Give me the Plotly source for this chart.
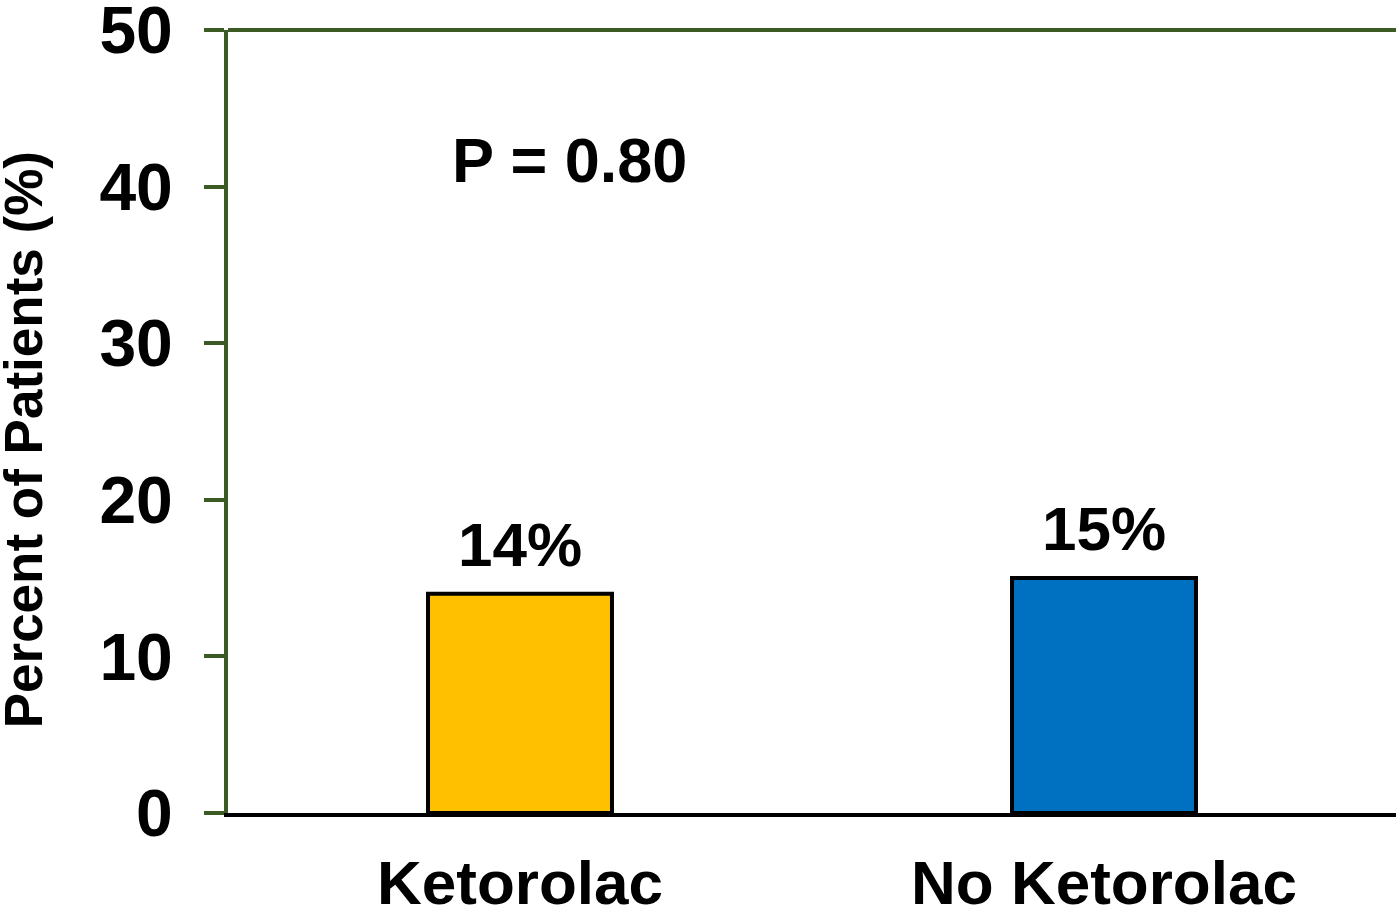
import plotly.graph_objects as go

categories = ["Ketorolac", "No Ketorolac"]
values = [14, 15]
value_labels = ["14%", "15%"]
bar_colors = ["#FFC000", "#0070C0"]
y_ticks = [0, 10, 20, 30, 40, 50]
p_text = "P = 0.80"
y_title = "Percent of Patients (%)"

GREEN = "#3C5A24"
FONT = "Liberation Sans, Arial, sans-serif"

fig = go.Figure()
fig.add_trace(go.Bar(
    x=categories, y=values,
    marker=dict(color=bar_colors, line=dict(color="black", width=4)),
    width=0.315,
    hoverinfo="skip",
))

for c, v, t in zip(categories, values, value_labels):
    fig.add_annotation(x=c, y=v, text=t, showarrow=False, yanchor="bottom",
                       yshift=13, font=dict(family=FONT, size=62, color="black", weight="bold"))

fig.add_annotation(x=0.292, xref="paper", y=41.7, yref="y", text=p_text, showarrow=False,
                   xanchor="center", yanchor="middle",
                   font=dict(family=FONT, size=63, color="black", weight="bold"))

fig.add_annotation(x=-0.1755, xref="paper", y=0.476, yref="paper", text=y_title, showarrow=False,
                   textangle=-90, xanchor="center", yanchor="middle",
                   font=dict(family=FONT, size=53, color="black", weight="bold"))

fig.add_shape(type="line", xref="paper", x0=0, x1=1, yref="paper", y0=1, y1=1,
              line=dict(color=GREEN, width=4), layer="above")

fig.update_layout(
    width=1396, height=914,
    margin=dict(l=228, r=0, t=30, b=101),
    plot_bgcolor="white", paper_bgcolor="white",
    showlegend=False,
    bargap=0.685,
)
fig.update_xaxes(
    automargin=False,
    showline=True, linecolor="black", linewidth=4,
    showgrid=False, ticks="", zeroline=False,
    tickfont=dict(family=FONT, size=62, color="black", weight="bold"),
    ticklabelstandoff=13,
)
fig.update_yaxes(
    automargin=False,
    range=[0, 50.0001], tickvals=y_ticks,
    showline=True, linecolor=GREEN, linewidth=4,
    ticks="outside", ticklen=20, tickwidth=4, tickcolor=GREEN,
    showgrid=False, zeroline=False,
    tickfont=dict(family=FONT, size=66, color="black", weight="bold"),
    ticklabelstandoff=18,
    ticklabeloverflow="allow",
)

fig.write_html(
    "out.html",
    config={"displayModeBar": False},
    post_script="document.body.style.margin='0';document.body.style.overflow='hidden';",
)
